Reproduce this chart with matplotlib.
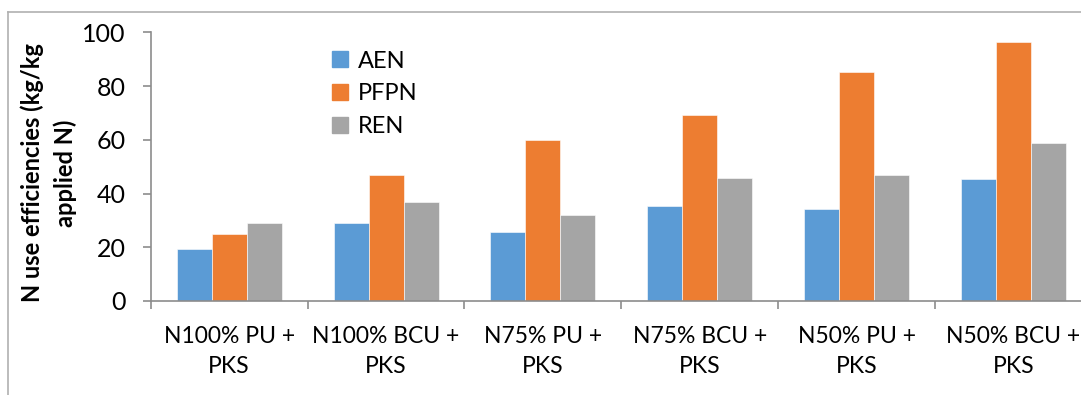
import matplotlib
matplotlib.use("Agg")
import matplotlib.pyplot as plt
import numpy as np
from matplotlib.lines import Line2D

categories = ["N100% PU +\nPKS", "N100% BCU +\nPKS", "N75% PU +\nPKS",
              "N75% BCU +\nPKS", "N50% PU +\nPKS", "N50% BCU +\nPKS"]
series_names = ["AEN", "PFPN", "REN"]
aen = [19.2, 29.2, 25.7, 35.4, 34.4, 45.4]
pfpn = [24.9, 47.0, 59.9, 69.1, 85.1, 96.3]
ren = [28.9, 37.0, 31.9, 45.8, 46.8, 58.8]
colors = ["#5B9BD5", "#ED7D31", "#A5A5A5"]
y_ticks = [0, 20, 40, 60, 80, 100]

plt.rcParams["font.family"] = ["Lato", "DejaVu Sans"]

W, H = 1081, 395
fig = plt.figure(figsize=(W / 100, H / 100), dpi=100)

# outer chart frame (left and top edges visible)
fig.add_artist(Line2D([8 / W, 8 / W], [0, 1 - 12 / H], transform=fig.transFigure,
                      color="#b0b0b0", lw=1.2))
fig.add_artist(Line2D([8 / W, 1], [1 - 12 / H, 1 - 12 / H], transform=fig.transFigure,
                      color="#b0b0b0", lw=1.2))

left = 150.7 / W
right = 1092 / W
bottom = (H - 301) / H
top = (H - 32.3) / H
ax = fig.add_axes([left, bottom, right - left, top - bottom])

x = np.arange(len(categories))
bw = 0.223
for i, (vals, name) in enumerate(zip([aen, pfpn, ren], series_names)):
    ax.bar(x + (i - 1) * bw, vals, width=bw, color=colors[i], label=name,
           edgecolor="white", linewidth=0.4, zorder=2)

ax.set_xlim(-0.5, len(categories) - 0.5)
ax.set_ylim(0, 100)
ax.set_yticks(y_ticks)
ax.set_xticks(x)
ax.set_xticklabels(categories, fontsize=16.5, linespacing=1.55)
ax.set_xticks(np.arange(-0.5, len(categories)), minor=True)
ax.tick_params(axis="x", which="major", length=0, pad=18)
ax.tick_params(axis="x", which="minor", length=6, width=1.2, color="#8c8c8c", direction="out")
ax.tick_params(axis="y", length=6, width=1.2, color="#8c8c8c", labelsize=18, pad=12)

for s in ["top", "right"]:
    ax.spines[s].set_visible(False)
for s in ["left", "bottom"]:
    ax.spines[s].set_color("#8c8c8c")
    ax.spines[s].set_linewidth(1.2)

fig.text(48.5 / W, 1 - 173 / H, "N use efficiencies (kg/kg\napplied N)", fontsize=17,
         fontweight="bold", rotation=90, ha="center", va="center", ma="center",
         linespacing=1.45)

handles = [plt.Rectangle((0, 0), 1, 1, color=c) for c in colors]
ax.legend(handles, series_names, loc="upper left", bbox_to_anchor=(0.193, 0.932),
          frameon=False, fontsize=17, handlelength=0.66, handleheight=0.66,
          handletextpad=0.42, labelspacing=0.5, borderaxespad=0, borderpad=0)

fig.savefig("out.png", dpi=100)
